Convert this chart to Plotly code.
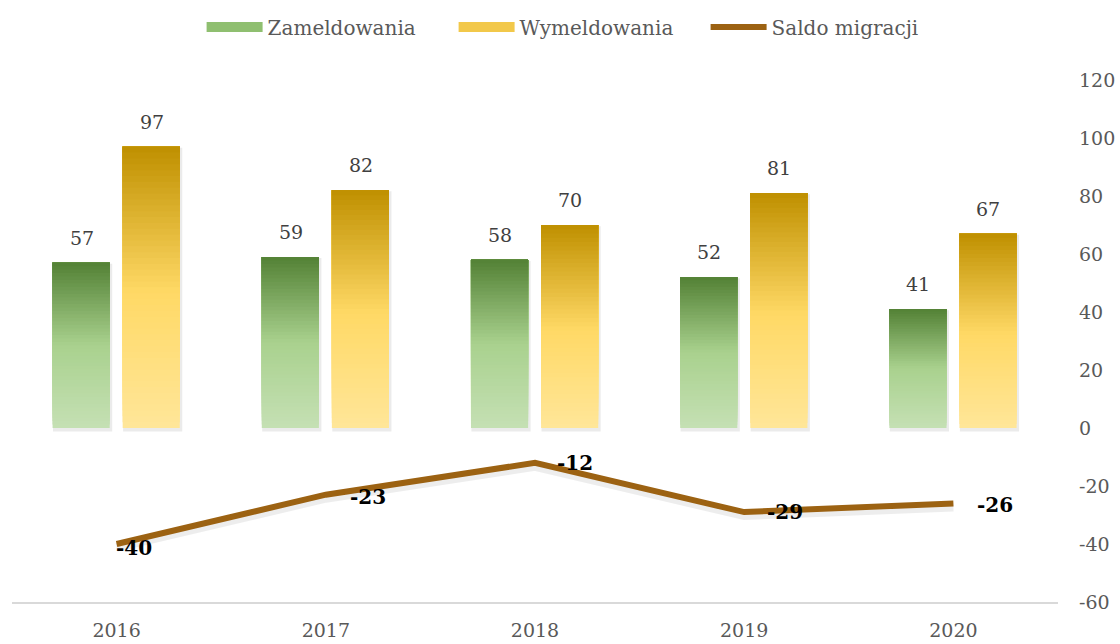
import plotly.graph_objects as go

years = ["2016", "2017", "2018", "2019", "2020"]
zameldowania = [57, 59, 58, 52, 41]
wymeldowania = [97, 82, 70, 81, 67]
saldo = [-40, -23, -12, -29, -26]
y_ticks = [-60, -40, -20, 0, 20, 40, 60, 80, 100, 120]

# gradient stops, measured from top of the bar (0) to its base (1)
green_stops = [(0.0, "#538135"), (0.5, "#a9d18e"), (1.0, "#c5e0b4")]
gold_stops = [(0.0, "#bf9000"), (0.52, "#ffd966"), (1.0, "#ffe699")]

N = 48
FONT = "DejaVu Serif"
BAR_W = 0.273
OFF_Z = -0.306
OFF_W = 0.029


def hex2rgb(h):
    h = h.lstrip("#")
    return [int(h[i:i + 2], 16) for i in (0, 2, 4)]


def grad(stops, t):
    for (t0, c0), (t1, c1) in zip(stops[:-1], stops[1:]):
        if t0 <= t <= t1:
            f = (t - t0) / (t1 - t0)
            a, b = hex2rgb(c0), hex2rgb(c1)
            r = [round(a[k] + (b[k] - a[k]) * f) for k in range(3)]
            return "rgb(%d,%d,%d)" % tuple(r)
    return stops[-1][1]


fig = go.Figure()


def add_gradient_bars(vals, stops, offset, name):
    # each slice runs from its own start up to the bar top; later slices cover the
    # upper part, so no seams appear between slices
    for i in range(N):
        t_from_top = 1 - (i + 0.5) / N
        fig.add_trace(go.Bar(
            x=years,
            y=[v * (N - i) / N for v in vals],
            base=[v * i / N for v in vals],
            width=[BAR_W] * len(vals),
            offset=[offset] * len(vals),
            marker=dict(color=grad(stops, t_from_top), line=dict(width=0)),
            showlegend=False,
            hoverinfo="skip",
            name=name,
        ))


# soft shadows
for vals, off in ((zameldowania, OFF_Z), (wymeldowania, OFF_W)):
    fig.add_trace(go.Bar(
        x=years, y=[v + 0.8 for v in vals], base=[-1.2] * len(vals),
        width=[BAR_W + 0.010] * len(vals), offset=[off + 0.002] * len(vals),
        marker=dict(color="rgba(0,0,0,0.08)", line=dict(width=0)),
        showlegend=False, hoverinfo="skip",
    ))

add_gradient_bars(zameldowania, green_stops, OFF_Z, "Zameldowania")
add_gradient_bars(wymeldowania, gold_stops, OFF_W, "Wymeldowania")

# line shadow
fig.add_trace(go.Scatter(
    x=years, y=[v - 1.2 for v in saldo], mode="lines",
    line=dict(color="rgba(0,0,0,0.07)", width=9),
    showlegend=False, hoverinfo="skip",
))
fig.add_trace(go.Scatter(
    x=years, y=saldo, mode="lines", name="Saldo migracji",
    line=dict(color="#9c6212", width=6), showlegend=False,
))

# legend entries
for nm, col, w in (("Zameldowania", "#8fbf70", 13),
                   ("Wymeldowania", "#f2c84a", 13),
                   ("Saldo migracji", "#9c6212", 6)):
    fig.add_trace(go.Scatter(x=[years[0]], y=[None], mode="lines", name=nm,
                             line=dict(color=col, width=w)))

annotations = []
for i, (v, z) in enumerate(zip(zameldowania, wymeldowania)):
    annotations.append(dict(x=i, y=v, text=str(v), showarrow=False, xref="x", yref="y",
                            xshift=-35, yshift=12, yanchor="bottom",
                            font=dict(family=FONT, size=19, color="#404040")))
    annotations.append(dict(x=i, y=z, text=str(z), showarrow=False, xref="x", yref="y",
                            xshift=35, yshift=12, yanchor="bottom",
                            font=dict(family=FONT, size=19, color="#404040")))

xshifts = [-3, 22, 20, 21, 22]
yshifts = [-4, -2, 0, 0, -2]
for i, (v, xs, ys) in enumerate(zip(saldo, xshifts, yshifts)):
    annotations.append(dict(x=i, y=v, text="<b>%d</b>" % v, showarrow=False, xref="x", yref="y",
                            xanchor="left", xshift=xs, yshift=ys,
                            font=dict(family=FONT, size=20, color="#000000")))

fig.update_layout(
    width=1120, height=644,
    margin=dict(l=12, r=62, t=80, b=42, autoexpand=False),
    paper_bgcolor="white", plot_bgcolor="white",
    barmode="overlay",
    font=dict(family=FONT, size=18, color="#595959"),
    legend=dict(orientation="h", xref="container", yref="container",
                x=0.18, xanchor="left", y=0.958, yanchor="middle",
                font=dict(family=FONT, size=20, color="#595959"), itemwidth=56,
                traceorder="normal", entrywidth=181),
    annotations=annotations,
    xaxis=dict(type="category", categoryorder="array", categoryarray=years,
               range=[-0.5, len(years) - 0.5], showgrid=False, zeroline=False,
               showline=True, linecolor="#d9d9d9", linewidth=2, automargin=False,
               ticks="", ticklabelstandoff=10,
               tickfont=dict(family=FONT, size=19, color="#595959")),
    yaxis=dict(range=[-60, 120], tickvals=y_ticks, ticktext=[str(t) for t in y_ticks],
               side="right", showgrid=False, automargin=False,
               zeroline=False, showline=False, ticks="", ticklabelstandoff=20,
               tickfont=dict(family=FONT, size=19, color="#595959")),
)

fig.write_html("out.html", config={"displayModeBar": False},
               post_script="document.body.style.margin='0';")
